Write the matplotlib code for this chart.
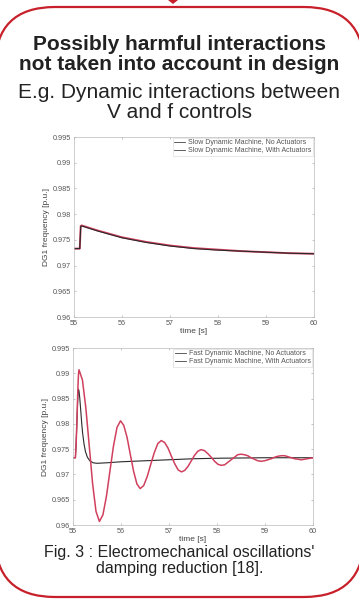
import matplotlib
matplotlib.use("Agg")
import matplotlib.pyplot as plt
from matplotlib.patches import FancyBboxPatch, Polygon
from matplotlib.lines import Line2D

plt.rcParams["font.family"] = ["Liberation Sans", "DejaVu Sans"]

# ── data ────────────────────────────────────────────────────────
slow_t = [55.0, 55.12, 55.14, 55.16, 55.5, 56.0, 56.5, 57.0, 57.5, 58.0, 58.5, 59.0, 59.5, 60.0]
slow_no_act = [0.9733, 0.9733, 0.9776, 0.9777, 0.9767, 0.9754, 0.9745, 0.9738, 0.9733, 0.9730,
               0.9728, 0.9726, 0.9724, 0.9723]
slow_with_act = [0.9733, 0.9733, 0.9777, 0.9778, 0.9768, 0.9755, 0.9746, 0.9739, 0.9734, 0.9731,
                 0.9728, 0.9726, 0.9724, 0.9723]

fast_t_no = [55.0, 55.05, 55.065, 55.08, 55.095, 55.105, 55.115, 55.125, 55.14, 55.16, 55.18,
             55.20, 55.23, 55.26, 55.30, 55.35, 55.42, 55.50, 55.70, 56.0, 56.5, 57.0, 57.5,
             58.0, 59.0, 60.0]
fast_no_act = [0.9733, 0.9733, 0.9760, 0.9800, 0.9840, 0.9860, 0.9868, 0.9865, 0.9852, 0.9828,
               0.9803, 0.9782, 0.9760, 0.9745, 0.9734, 0.9727, 0.9723, 0.9722, 0.9723, 0.9725,
               0.9727, 0.9729, 0.9731, 0.9732, 0.9733, 0.9733]

fast_t_with = [55.0, 55.05, 55.065, 55.08, 55.095, 55.105, 55.115, 55.125,
               55.196, 55.267, 55.338, 55.408, 55.479, 55.55,
               55.623, 55.697, 55.77, 55.843, 55.917, 55.99,
               56.058, 56.127, 56.195, 56.263, 56.332, 56.40,
               56.473, 56.547, 56.62, 56.693, 56.767, 56.84,
               56.91, 56.98, 57.05, 57.12, 57.19, 57.26,
               57.328, 57.397, 57.465, 57.533, 57.602, 57.67,
               57.74, 57.81, 57.88, 57.95, 58.02, 58.09,
               58.158, 58.227, 58.295, 58.363, 58.432, 58.50,
               58.57, 58.64, 58.71, 58.78, 58.85, 58.92,
               58.99, 59.06, 59.13, 59.20, 59.27, 59.34,
               59.41, 59.48, 59.55, 59.62, 59.69, 59.76,
               59.88, 60.0]
fast_with_act = [0.9733, 0.9733, 0.9760, 0.9800, 0.9848, 0.9878, 0.9899, 0.9907,
                 0.9887, 0.9832, 0.9757, 0.9682, 0.9627, 0.9607,
                 0.9620, 0.9657, 0.9707, 0.9756, 0.9793, 0.9806,
                 0.9797, 0.9773, 0.9739, 0.9706, 0.9681, 0.9672,
                 0.9678, 0.9696, 0.9720, 0.9743, 0.9761, 0.9767,
                 0.9763, 0.9752, 0.9736, 0.9721, 0.9709, 0.9705,
                 0.9708, 0.9716, 0.9727, 0.9738, 0.9746, 0.9749,
                 0.9747, 0.9741, 0.9734, 0.9726, 0.9720, 0.9718,
                 0.9719, 0.9724, 0.9729, 0.9734, 0.9739, 0.9740,
                 0.9739, 0.9737, 0.9733, 0.9730, 0.9727, 0.9726,
                 0.9727, 0.9729, 0.9731, 0.9734, 0.9736, 0.9737,
                 0.9737, 0.9735, 0.9733, 0.9731, 0.9730, 0.9729,
                 0.9731, 0.9733]

x_ticks = [55, 56, 57, 58, 59, 60]
y_ticks = [0.96, 0.965, 0.97, 0.975, 0.98, 0.985, 0.99, 0.995]
y_tick_labels = ["0.96", "0.965", "0.97", "0.975", "0.98", "0.985", "0.99", "0.995"]

RED = "#d0405e"
DARK = "#2a2a2a"
TXT = "#222222"

fig = plt.figure(figsize=(3.59, 6.01), dpi=100)
fig.patch.set_facecolor("white")

# ── background frame (pixel coordinates) ────────────────────────
bg = fig.add_axes([0, 0, 1, 1])
bg.set_xlim(0, 359)
bg.set_ylim(601, 0)
bg.axis("off")
bg.add_patch(FancyBboxPatch((-5, 7), 369, 590, boxstyle="round,pad=0,rounding_size=60",
                            fc="white", ec="#c8202a", lw=1.6))
bg.add_patch(Polygon([[168, 0], [178, 0], [173, 4]], closed=True, fc="#c8202a", ec="none"))

bg.text(179.5, 45, "Possibly harmful interactions", ha="center", va="center",
        fontsize=15, fontweight="bold", color=TXT)
bg.text(179.5, 65, "not taken into account in design", ha="center", va="center",
        fontsize=15, fontweight="bold", color=TXT)
bg.text(179.5, 92, "E.g. Dynamic interactions between", ha="center", va="center",
        fontsize=15, color=TXT)
bg.text(179.5, 113, "V and f controls", ha="center", va="center",
        fontsize=15, color=TXT)
bg.text(179.5, 552, "Fig. 3 : Electromechanical oscillations'", ha="center", va="center",
        fontsize=11.5, color=TXT)
bg.text(179.5, 569, "damping reduction [18].", ha="center", va="center",
        fontsize=11.5, color=TXT)


def style(ax, labels):
    ax.set_xlim(55, 60)
    ax.set_ylim(0.96, 0.995)
    ax.set_xticks(x_ticks)
    ax.set_xticklabels([str(v) for v in x_ticks])
    ax.set_yticks(y_ticks)
    ax.set_yticklabels(y_tick_labels)
    ax.tick_params(direction="in", length=1.5, width=0.4, labelsize=5.2,
                   colors="#999999", labelcolor="#555555", pad=2, top=True, right=True)
    for sp in ax.spines.values():
        sp.set_color("#bbbbbb")
        sp.set_linewidth(0.5)
    ax.set_xlabel("time [s]", fontsize=6, color="#444444", labelpad=1)
    ax.set_ylabel("DG1 frequency [p.u.]", fontsize=6, color="#444444", labelpad=2)
    handles = [Line2D([], [], color="#444444", lw=0.6), Line2D([], [], color="#444444", lw=0.6)]
    leg = ax.legend(handles, labels, loc="upper right", fontsize=5.0, fancybox=False,
                    borderaxespad=0.15, handlelength=1.6, handletextpad=0.4,
                    borderpad=0.2, labelspacing=0.1)
    leg.get_frame().set_edgecolor("#cccccc")
    leg.get_frame().set_linewidth(0.4)
    for t in leg.get_texts():
        t.set_color("#555555")


# ── (1) slow dynamic machine ────────────────────────────────────
ax1 = fig.add_axes([74 / 359, 1 - 317 / 601, 240 / 359, 180 / 601])
ax1.plot(slow_t, slow_with_act, color=RED, lw=1.4)
ax1.plot(slow_t, slow_no_act, color=DARK, lw=0.8)
style(ax1, ["Slow Dynamic Machine, No Actuators", "Slow Dynamic Machine, With Actuators"])

# ── (2) fast dynamic machine ────────────────────────────────────
ax2 = fig.add_axes([73 / 359, 1 - 525 / 601, 240 / 359, 177 / 601])
ax2.plot(fast_t_no, fast_no_act, color=DARK, lw=0.8)
ax2.plot(fast_t_with, fast_with_act, color=RED, lw=1.1)
style(ax2, ["Fast Dynamic Machine, No Actuators", "Fast Dynamic Machine, With Actuators"])

fig.savefig("out.png", dpi=100)
